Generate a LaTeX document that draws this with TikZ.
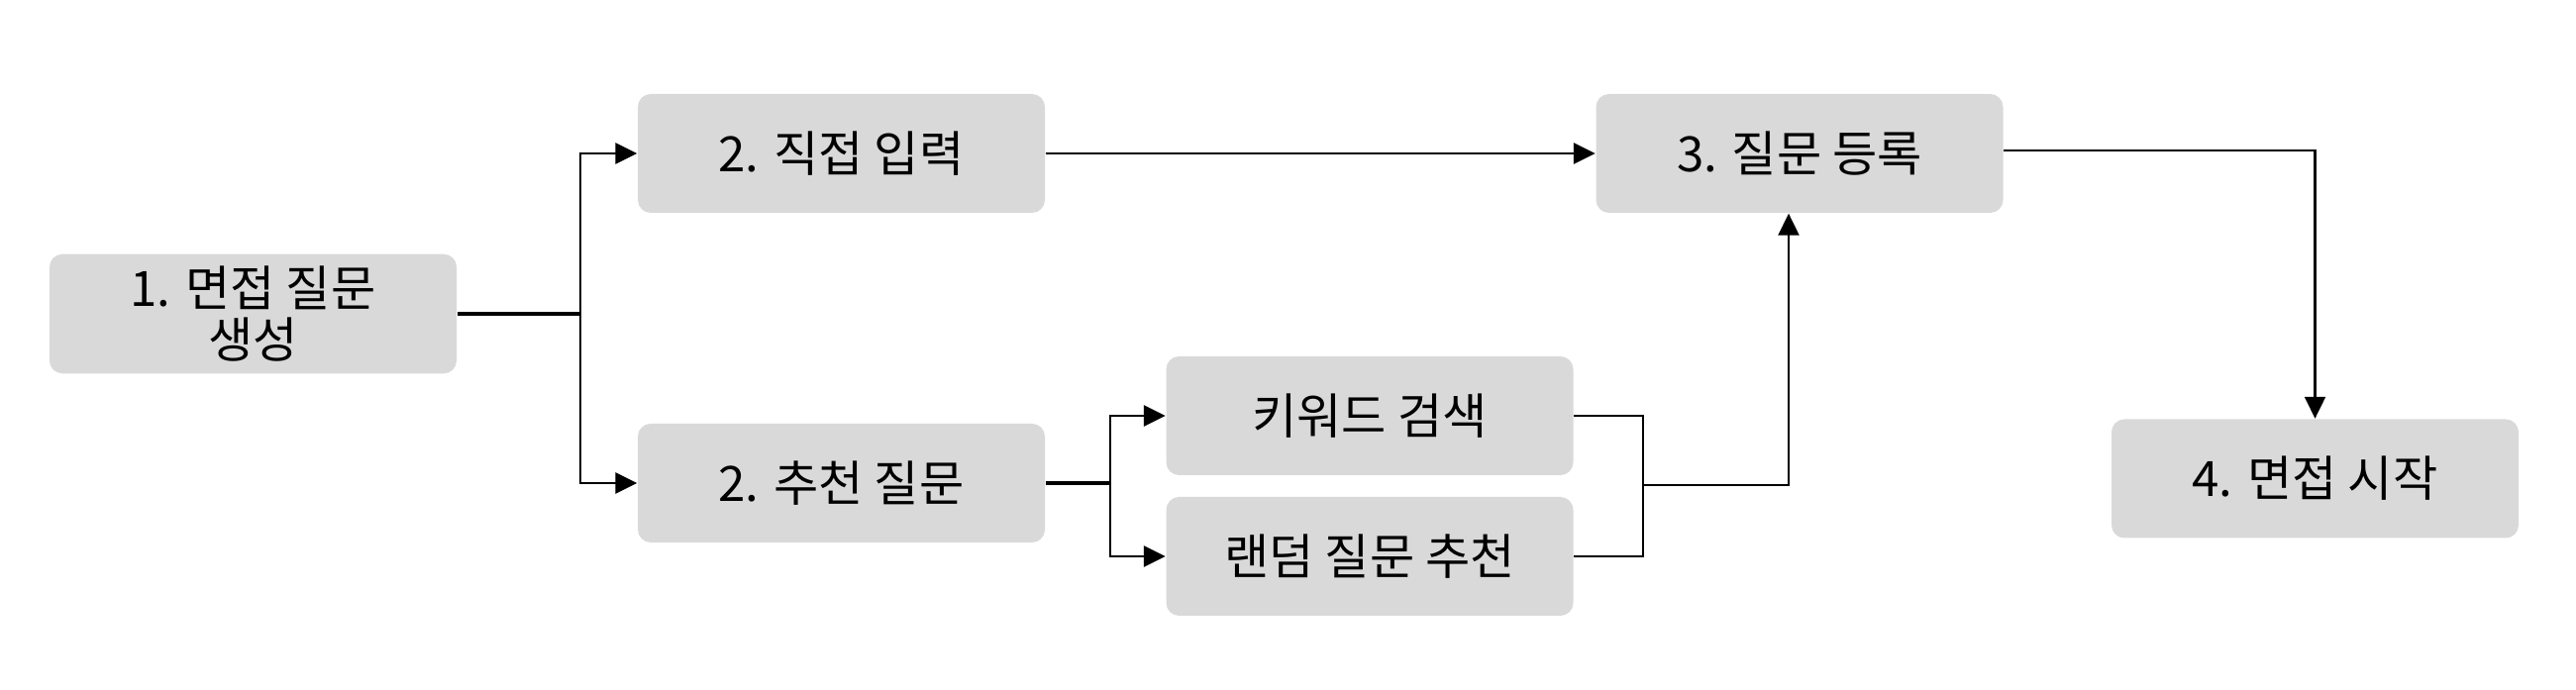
\documentclass[tikz,border=0pt]{standalone}
\usepackage{fontspec}
\setmainfont{Noto Sans CJK KR}
\usetikzlibrary{arrows.meta}
\usetikzlibrary{calc}
\definecolor{boxgray}{HTML}{D9D9D9}

\begin{document}
\begin{tikzpicture}[
    box/.style={fill=boxgray, rounded corners=1.3mm, minimum width=4.11cm, minimum height=1.2cm, align=center, font=\fontsize{14}{15}\selectfont},
    link/.style={line width=0.8pt, -{Triangle[length=2.2mm, width=2.1mm]}},
    thinlink/.style={line width=0.6pt, -{Triangle[length=2.2mm, width=2.1mm]}}
  ]
  \useasboundingbox (0,0) rectangle (26.01,-6.97);

  \node[box] (gen) at (2.555,-3.17) {1. 면접 질문\\생성};
  \node[box] (direct) at (8.495,-1.55) {2. 직접 입력};
  \node[box] (recom) at (8.495,-4.88) {2. 추천 질문};
  \node[box] (keyword) at (13.83,-4.20) {키워드 검색};
  \node[box] (random) at (13.83,-5.62) {랜덤 질문 추천};
  \node[box] (regist) at (18.17,-1.55) {3. 질문 등록};
  \node[box] (start) at (23.375,-4.835) {4. 면접 시작};

  \coordinate (split) at (5.86,-3.17);
  \coordinate (split') at (11.21,-4.88);
  \coordinate (merge) at (16.59,-4.90);

  \draw[line width=0.9pt] (gen) -- (split);
  \draw[link] (split) |- (direct);
  \draw[link] (split) |- (recom);
  \draw[link] (direct) -- (regist);

  \draw[line width=0.9pt] (recom) -- (split');
  \draw[link] (split') |- (keyword);
  \draw[link] (split') |- (random);

  \draw[line width=0.8pt] (keyword.east) -| (merge) |- (random.east);
  \draw[thinlink] (merge) -| ($(regist.south)+(-0.11,0)$);

  \draw[thinlink] ($(regist.east)+(0,0.03)$) -| (start.north);
\end{tikzpicture}
\end{document}
